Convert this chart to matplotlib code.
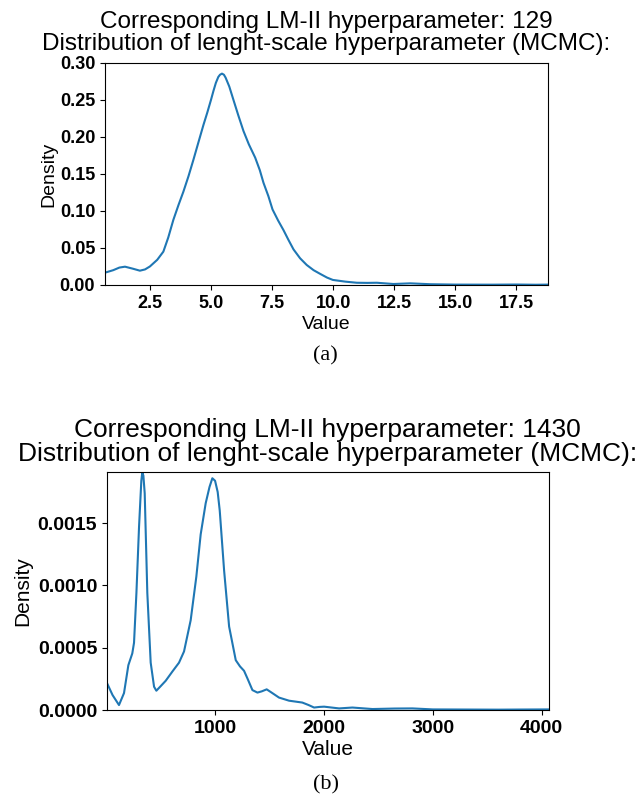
import matplotlib
matplotlib.use("Agg")
import matplotlib.pyplot as plt

# KDE curve (a): length-scale values and density
a_value = [0.66, 1.0, 1.25, 1.48, 1.8, 2.09, 2.3, 2.5, 2.8, 3.05, 3.25, 3.46, 3.67,
           3.87, 4.08, 4.28, 4.48, 4.69, 4.85, 5.0, 5.1, 5.2, 5.3, 5.37, 5.45, 5.53,
           5.6, 5.75, 5.92, 6.12, 6.33, 6.55, 6.81, 7.0, 7.15, 7.35, 7.52, 7.75,
           7.97, 8.17, 8.38, 8.65, 8.92, 9.2, 9.47, 9.75, 9.99, 10.5, 10.97, 11.4,
           11.79, 12.47, 13.16, 13.98, 15.0, 16.5, 17.5, 18.3, 18.8]
a_density = [0.0166, 0.020, 0.0235, 0.0247, 0.022, 0.0193, 0.021, 0.025, 0.034,
             0.045, 0.064, 0.088, 0.108, 0.126, 0.147, 0.169, 0.192, 0.216, 0.233,
             0.250, 0.262, 0.273, 0.281, 0.284, 0.2855, 0.284, 0.280, 0.268,
             0.250, 0.229, 0.208, 0.190, 0.172, 0.155, 0.138, 0.120, 0.102, 0.087,
             0.074, 0.061, 0.048, 0.036, 0.027, 0.020, 0.0150, 0.010, 0.0068,
             0.0045, 0.003, 0.0028, 0.003, 0.0013, 0.0022, 0.001, 0.0005, 0.0004,
             0.0006, 0.0003, 0.0005]

# KDE curve (b)
b_value = [10, 60, 119, 165, 205, 241, 257, 279, 303, 324, 333, 343, 355, 379, 410,
           441, 462, 500, 548, 610, 670, 716, 777, 829, 869, 915, 950, 976, 1001,
           1025, 1044, 1084, 1130, 1191, 1230, 1267, 1300, 1344, 1390, 1430, 1475,
           1520, 1588, 1680, 1802, 1860, 1910, 1960, 2002, 2140, 2262, 2446, 2650,
           2813, 3000, 3300, 3600, 3800, 4064]
b_density = [0.000214, 0.00012, 0.00004, 0.000136, 0.00036, 0.000454, 0.00054,
             0.00094, 0.00147, 0.00184, 0.00191, 0.00188, 0.00174, 0.00094, 0.00038,
             0.000187, 0.000155, 0.00019, 0.000235, 0.00031, 0.00038, 0.00047,
             0.00072, 0.00107, 0.00141, 0.00166, 0.00179, 0.00186, 0.00184, 0.00175,
             0.0016, 0.00112, 0.00067, 0.0004, 0.00035, 0.000315, 0.00025, 0.00016,
             0.00014, 0.00015, 0.000166, 0.00014, 0.0001, 0.000075, 0.00006,
             0.00004, 0.00002, 0.000025, 0.000027, 0.000013, 0.00002, 0.000008,
             0.000012, 0.000013, 0.000005, 0.000004, 0.000003, 0.000004, 0.000005]

titles = ["Corresponding LM-II hyperparameter: 129\n"
          "Distribution of lenght-scale hyperparameter (MCMC):",
          "Corresponding LM-II hyperparameter: 1430\n"
          "Distribution of lenght-scale hyperparameter (MCMC):"]
captions = ["(a)", "(b)"]

plt.rcParams["font.family"] = ["Liberation Sans", "DejaVu Sans"]

fig = plt.figure(figsize=(6.44, 7.96), dpi=100)
ax_a = fig.add_axes([0.163, 0.642, 0.688, 0.279])
ax_b = fig.add_axes([0.166, 0.108, 0.686, 0.299])

# panel (a)
ax_a.plot(a_value, a_density, color="#1f77b4", linewidth=1.5)
ax_a.set_xlim(0.66, 18.8)
ax_a.set_ylim(0, 0.30)
ax_a.set_xticks([2.5, 5.0, 7.5, 10.0, 12.5, 15.0, 17.5])
ax_a.set_yticks([0.0, 0.05, 0.10, 0.15, 0.20, 0.25, 0.30])
ax_a.set_xticklabels(["2.5", "5.0", "7.5", "10.0", "12.5", "15.0", "17.5"])
ax_a.set_yticklabels(["0.00", "0.05", "0.10", "0.15", "0.20", "0.25", "0.30"])
ax_a.tick_params(labelsize=13)
for lbl in ax_a.get_xticklabels() + ax_a.get_yticklabels():
    lbl.set_fontweight("bold")
ax_a.set_xlabel("Value", fontsize=14, labelpad=3)
ax_a.set_ylabel("Density", fontsize=14, labelpad=2)
ax_a.set_title(titles[0], fontsize=17.5, linespacing=1.02, pad=9)

# panel (b)
ax_b.plot(b_value, b_density, color="#1f77b4", linewidth=1.5)
ax_b.set_xlim(8, 4064)
ax_b.set_ylim(0, 0.00191)
ax_b.set_xticks([1000, 2000, 3000, 4000])
ax_b.set_yticks([0.0, 0.0005, 0.0010, 0.0015])
ax_b.set_xticklabels(["1000", "2000", "3000", "4000"])
ax_b.set_yticklabels(["0.0000", "0.0005", "0.0010", "0.0015"])
ax_b.tick_params(labelsize=14)
for lbl in ax_b.get_xticklabels() + ax_b.get_yticklabels():
    lbl.set_fontweight("bold")
ax_b.set_xlabel("Value", fontsize=15, labelpad=2)
ax_b.set_ylabel("Density", fontsize=15, labelpad=4)
ax_b.set_title(titles[1], fontsize=19, linespacing=1.02, pad=8)

# sub-figure captions in serif, like the paper
fig.text(0.506, 1 - 356 / 796, captions[0], ha="center", va="center",
         fontsize=16, family="Liberation Serif")
fig.text(0.506, 1 - 785 / 796, captions[1], ha="center", va="center",
         fontsize=16, family="Liberation Serif")

fig.savefig("out.png", dpi=100)
